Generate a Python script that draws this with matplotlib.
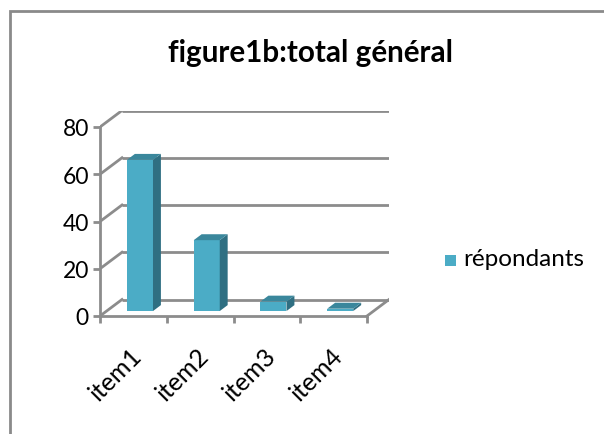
import matplotlib
matplotlib.use("Agg")
import matplotlib.pyplot as plt
from matplotlib.patches import Polygon, Rectangle
import matplotlib.transforms as mtransforms

categories = ["item1", "item2", "item3", "item4"]
values = [64, 30, 4, 1]
y_ticks = [0, 20, 40, 60, 80]
title = "figure1b:total général"
series_name = "répondants"

W, H = 604, 435
PX_X = 66.75      # pixels per category
PX_Y = 2.3625     # pixels per value unit
DX = 22 / PX_X    # depth offset of back wall (data units)
DY = 16.5 / PX_Y

GRID = "#8c8c8c"
FRONT = "#4bacc6"
SIDE = "#2f6f82"
TOP = "#3a879c"
FONT = ["Lato", "DejaVu Sans"]


def main():
    plt.rcParams["font.family"] = FONT
    fig = plt.figure(figsize=(W / 100, H / 100), dpi=100)

    # outer chart frame (only top and left edges visible)
    fig.patches.append(Rectangle((10 / W, -0.1), 1.2, 1.1 - 12 / H, transform=fig.transFigure,
                                 fill=False, edgecolor="#8a8a8a", linewidth=2))

    n = len(categories)
    ax = fig.add_axes([100 / W, (H - 317) / H, (n + DX) * PX_X / W, (80 + DY) * PX_Y / H])
    ax.set_xlim(0, n + DX)
    ax.set_ylim(0, 80 + DY)
    ax.patch.set_alpha(0)
    for s in ["top", "right"]:
        ax.spines[s].set_visible(False)
    for s in ["left", "bottom"]:
        ax.spines[s].set_color(GRID)
        ax.spines[s].set_linewidth(2)
    ax.spines["left"].set_bounds(0, 80)
    ax.spines["bottom"].set_bounds(0, n)

    # walls: back gridlines and side diagonals
    for v in y_ticks:
        ax.plot([DX, n + DX], [v + DY, v + DY], color=GRID, lw=2, zorder=1, solid_capstyle="butt")
        ax.plot([0, DX], [v, v + DY], color=GRID, lw=2, zorder=1)
    ax.plot([n, n + DX], [0, DY], color=GRID, lw=2, zorder=1)

    # bars
    w = 0.39
    f0, f1 = 0.3, 0.66
    for i, v in enumerate(values):
        x0 = i + 0.5 - w / 2 + f0 * DX
        x1 = x0 + w
        y0 = f0 * DY
        y1 = v + f0 * DY
        ddx = (f1 - f0) * DX
        ddy = (f1 - f0) * DY
        ax.add_patch(Polygon([(x0, y0), (x1, y0), (x1, y1), (x0, y1)], closed=True,
                             facecolor=FRONT, edgecolor="none", zorder=3))
        ax.add_patch(Polygon([(x1, y0), (x1 + ddx, y0 + ddy), (x1 + ddx, y1 + ddy), (x1, y1)],
                             closed=True, facecolor=SIDE, edgecolor="none", zorder=3))
        ax.add_patch(Polygon([(x0, y1), (x1, y1), (x1 + ddx, y1 + ddy), (x0 + ddx, y1 + ddy)],
                             closed=True, facecolor=TOP, edgecolor="none", zorder=3))

    ax.set_yticks(y_ticks)
    ax.set_yticklabels([str(v) for v in y_ticks], fontsize=16.5)
    ax.set_xticks(range(n + 1))
    ax.set_xticklabels([])
    ax.tick_params(axis="both", direction="out", length=5, width=2, color=GRID, pad=3)

    offset = mtransforms.ScaledTranslation(13 / 100, -27 / 100, fig.dpi_scale_trans)
    for i, c in enumerate(categories):
        ax.text(i + 0.5, 0, c, rotation=45, ha="right", va="top", fontsize=18,
                transform=ax.transData + offset)

    fig.text(311 / W, 1 - 53 / H, title, ha="center", va="center", fontsize=21.3, fontweight="bold")

    # legend
    fig.patches.append(Rectangle((445 / W, 1 - 267 / H), 11 / W, 11 / H, transform=fig.transFigure,
                                 facecolor=FRONT, edgecolor="none"))
    fig.text(463 / W, 1 - 260 / H, series_name, ha="left", va="center", fontsize=17.5)

    fig.savefig("out.png", dpi=100)


if __name__ == "__main__":
    main()
